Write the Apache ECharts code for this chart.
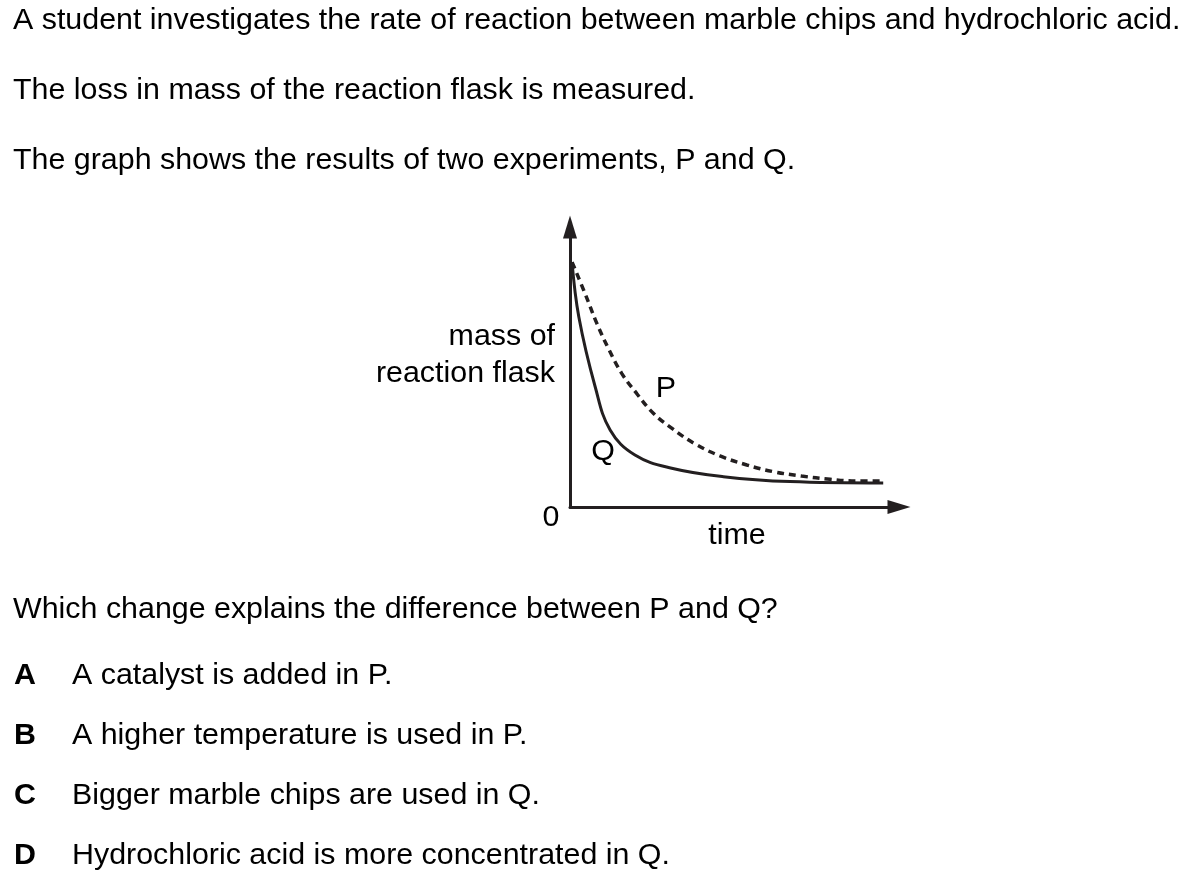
<!DOCTYPE html>
<html>
<head>
<meta charset="utf-8">
<script src="https://cdn.jsdelivr.net/npm/echarts@6/dist/echarts.min.js"></script>
<style>
html,body{margin:0;padding:0;background:#fff;}
#c{width:1201px;height:883px;}
</style>
</head>
<body>
<div id="c"></div>
<script>
// Data (x = time units, y = mass units)
const timeQ = [0.6, 2.6, 7.4, 11.8, 19.1, 29.9, 45.1, 64.7, 92.1];
const massQ = [83.9, 65.1, 41.2, 26.4, 17.8, 13.3, 10.4, 8.7, 8.2];
const timeP = [0.6, 4.4, 7.9, 11.5, 15.2, 19.6, 24.5, 29.9, 36.8, 44.1, 52.0, 59.8, 68.1, 76.5, 84.3, 92.4];
const massP = [83.9, 73.2, 62.9, 53.8, 45.8, 38.9, 32.1, 27.0, 21.6, 17.5, 14.4, 12.1, 10.6, 9.5, 8.9, 8.9];
const seriesNames = ['P', 'Q'];
const introLines = [
  'A student investigates the rate of reaction between marble chips and hydrochloric acid.',
  'The loss in mass of the reaction flask is measured.',
  'The graph shows the results of two experiments, P and Q.'
];
const questionText = 'Which change explains the difference between P and Q?';
const optionLetters = ['A', 'B', 'C', 'D'];
const optionTexts = [
  'A catalyst is added in P.',
  'A higher temperature is used in P.',
  'Bigger marble chips are used in Q.',
  'Hydrochloric acid is more concentrated in Q.'
];

const ink = '#231f20';
const txt = '#000';
const fam = '"Liberation Sans", Arial, Helvetica, sans-serif';
const fs = 30.4;

const chart = echarts.init(document.getElementById('c'), null, {renderer: 'canvas'});

function T(x, y, text, opts) {
  opts = opts || {};
  return {type: 'text', x: x, y: y,
    style: {text: text, fontFamily: fam, fontSize: fs, fontWeight: opts.bold ? 'bold' : 'normal',
      fill: txt, align: opts.align || 'left', verticalAlign: 'middle'}};
}

const graphics = [];
introLines.forEach((t, i) => graphics.push(T(13, 21 + i * 70, t)));
graphics.push(T(13, 610, questionText));
optionLetters.forEach((L, i) => {
  graphics.push(T(14, 676 + i * 60, L, {bold: true}));
  graphics.push(T(72, 676 + i * 60, optionTexts[i]));
});
graphics.push(T(555, 337, 'mass of', {align: 'right'}));
graphics.push(T(555, 374, 'reaction flask', {align: 'right'}));
graphics.push(T(551, 518, '0', {align: 'center'}));
graphics.push(T(737, 536, 'time', {align: 'center'}));
graphics.push(T(666, 389, seriesNames[0], {align: 'center'}));
graphics.push(T(603, 452, seriesNames[1], {align: 'center'}));

const toPairs = (xs, ys) => xs.map((x, i) => [x, ys[i]]);

const axisCommon = {
  type: 'value', min: 0,
  axisLine: {show: true, lineStyle: {color: ink, width: 3},
    symbol: ['none', 'triangle'], symbolSize: [14, 23], symbolOffset: [0, 10]},
  axisTick: {show: false}, axisLabel: {show: false}, splitLine: {show: false}
};

chart.setOption({
  animation: false,
  backgroundColor: '#fff',
  grid: {left: 570, top: 237, width: 319, bottom: 883 - 507},
  xAxis: Object.assign({}, axisCommon, {max: 93.8}),
  yAxis: Object.assign({}, axisCommon, {max: 92.5}),
  series: [
    {name: seriesNames[0], type: 'line', smooth: 0.4, symbol: 'none',
      data: toPairs(timeP, massP),
      lineStyle: {color: ink, width: 3.5, type: [7, 5]}},
    {name: seriesNames[1], type: 'line', smooth: 0.4, symbol: 'none',
      data: toPairs(timeQ, massQ),
      lineStyle: {color: ink, width: 3}}
  ],
  graphic: graphics
});
</script>
</body>
</html>
